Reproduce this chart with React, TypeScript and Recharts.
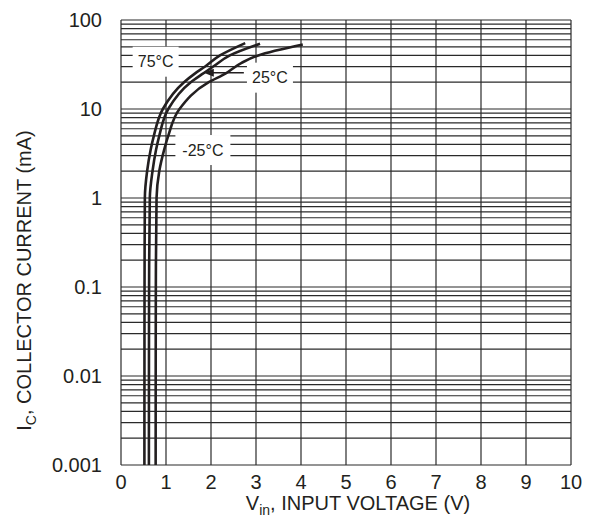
import React from 'react';
import { LineChart, Line, XAxis, YAxis, CartesianGrid, ReferenceDot, ReferenceLine, Label } from 'recharts';

// V_in (V) vs I_C (mA)
const v75 = [0.52, 0.521, 0.523, 0.53, 0.58, 0.66, 0.73, 0.93, 1.4, 1.64, 1.87, 2.2, 2.76];
const i75 = [0.001, 0.01, 0.1, 1, 2, 3.5, 5, 10, 20, 25, 30, 40, 55];
const v25 = [0.62, 0.621, 0.624, 0.64, 0.7, 0.78, 0.85, 1.05, 1.55, 1.82, 2.05, 2.42, 3.09];
const i25 = [0.001, 0.01, 0.1, 1, 2, 3.5, 5, 10, 20, 25, 30, 40, 54];
const vm25 = [0.77, 0.771, 0.774, 0.79, 0.85, 0.96, 1.05, 1.3, 1.95, 2.32, 2.68, 3.05, 4.04];
const im25 = [0.001, 0.01, 0.1, 1, 2, 3.5, 5, 10, 20, 25, 33, 40, 53];

const xTicks = [0, 1, 2, 3, 4, 5, 6, 7, 8, 9, 10];
const yTicks = [
  0.001, 0.002, 0.003, 0.004, 0.005, 0.006, 0.007, 0.008, 0.009,
  0.01, 0.02, 0.03, 0.04, 0.05, 0.06, 0.07, 0.08, 0.09,
  0.1, 0.2, 0.3, 0.4, 0.5, 0.6, 0.7, 0.8, 0.9,
  1, 2, 3, 4, 5, 6, 7, 8, 9,
  10, 20, 30, 40, 50, 60, 70, 80, 90,
  100,
];
const yDecades = [0.001, 0.01, 0.1, 1, 10, 100];
const yLabels = ['0.001', '0.01', '0.1', '1', '10', '100'];

const tempLabels = ['75°C', '25°C', '-25°C'];
const labelV = [0.77, 3.31, 1.82];
const labelI = [34, 22.5, 3.46];
const arrowFrom = { x: 2.73, y: 25.6 };
const arrowTo = { x: 1.84, y: 25.6 };

const toPoints = (vs: number[], is: number[]) => vs.map((v, k) => ({ v, i: is[k] }));
const series = [toPoints(v75, i75), toPoints(v25, i25), toPoints(vm25, im25)];

const INK = '#231f20';
const FONT = '"Liberation Sans", Arial, Helvetica, sans-serif';

function TempTag({ cx, cy, text }: any) {
  const w = text.length * 9 + 10;
  return (
    <g>
      <rect x={cx - w / 2} y={cy - 15} width={w} height={30} fill="#fff" />
      <text x={cx} y={cy} dy="0.36em" textAnchor="middle" fontSize={16} fill={INK} fontFamily={FONT}>
        {text}
      </text>
    </g>
  );
}

function Arrow(p: any) {
  const { x1, y1, x2, y2 } = p;
  return (
    <g>
      <line x1={x1} y1={y1} x2={x2 + 8} y2={y2} stroke={INK} strokeWidth={1.5} />
      <polygon points={`${x2},${y2} ${x2 + 10},${y2 - 4} ${x2 + 10},${y2 + 4}`} fill={INK} />
    </g>
  );
}

export default function App() {
  return (
    <div style={{ width: 580, height: 510, fontFamily: FONT }}>
      <LineChart width={580} height={510} margin={{ top: 12, right: 17, left: 5, bottom: 0 }}>
        <CartesianGrid stroke="#2a2a2a" strokeWidth={1.2} />
        <XAxis
          type="number"
          dataKey="v"
          domain={[0, 10]}
          ticks={xTicks}
          interval={0}
          height={53}
          axisLine={false}
          tickLine={false}
          tickSize={0}
          tickMargin={10}
          tick={{ fill: INK, fontSize: 20, fontFamily: FONT }}
        >
          <Label
            content={({ viewBox }: any) => (
              <text
                x={viewBox.x + viewBox.width / 2 + 12}
                y={viewBox.y + 45}
                textAnchor="middle"
                fontSize={20}
                fill={INK}
                fontFamily={FONT}
              >
                <tspan>V</tspan>
                <tspan dy={5} fontSize={14}>in</tspan>
                <tspan dy={-5}>, INPUT VOLTAGE (V)</tspan>
              </text>
            )}
          />
        </XAxis>
        <YAxis
          type="number"
          dataKey="i"
          scale="log"
          domain={[0.001, 100]}
          allowDataOverflow
          ticks={yTicks}
          interval={0}
          width={108}
          axisLine={false}
          tickLine={false}
          tickSize={0}
          tickMargin={19}
          tickFormatter={(val: number) => {
            const k = yDecades.findIndex((d) => Math.abs(d - val) / d < 1e-6);
            return k >= 0 ? yLabels[k] : '';
          }}
          tick={{ fill: INK, fontSize: 20, fontFamily: FONT }}
        >
          <Label
            content={({ viewBox }: any) => {
              const cx = viewBox.x + 11;
              const cy = viewBox.y + viewBox.height / 2 + 38;
              return (
                <text
                  x={cx}
                  y={cy}
                  transform={`rotate(-90, ${cx}, ${cy})`}
                  textAnchor="middle"
                  dy="0.36em"
                  fontSize={20}
                  fill={INK}
                  fontFamily={FONT}
                >
                  <tspan>I</tspan>
                  <tspan dy={5} fontSize={14}>C</tspan>
                  <tspan dy={-5}>, COLLECTOR CURRENT (mA)</tspan>
                </text>
              );
            }}
          />
        </YAxis>
        {tempLabels.map((t, k) => (
          <ReferenceDot
            key={t}
            x={labelV[k]}
            y={labelI[k]}
            r={0}
            ifOverflow="visible"
            shape={(p: any) => <TempTag cx={p.cx} cy={p.cy} text={t} />}
          />
        ))}
        <ReferenceLine segment={[arrowFrom, arrowTo]} ifOverflow="visible" shape={(p: any) => <Arrow {...p} />} />
        {series.map((d, k) => (
          <Line
            key={tempLabels[k]}
            data={d}
            dataKey="i"
            type="monotoneY"
            stroke={INK}
            strokeWidth={2.6}
            dot={false}
            isAnimationActive={false}
          />
        ))}
      </LineChart>
    </div>
  );
}
